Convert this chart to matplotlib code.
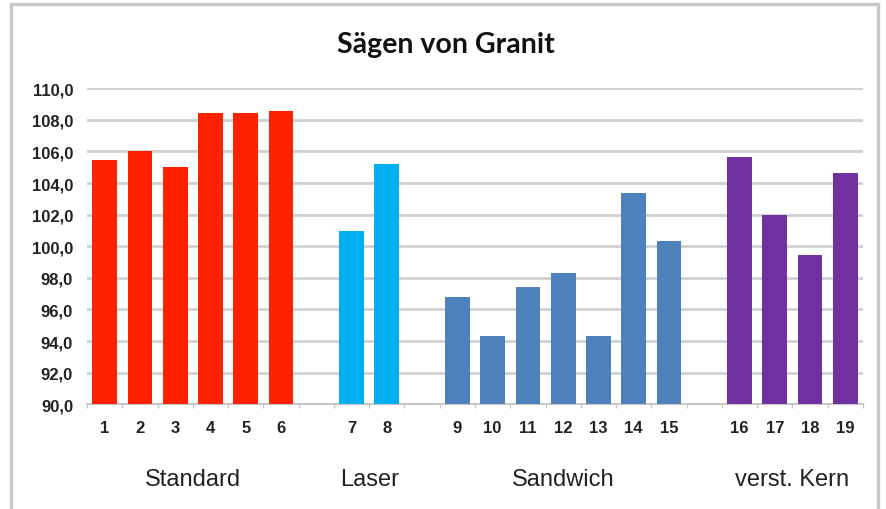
import matplotlib.pyplot as plt
import matplotlib.transforms as mtransforms
from matplotlib.patches import Rectangle

# data
groups = ['Standard', 'Laser', 'Sandwich', 'verst. Kern']
group_colors = ['#FF2200', '#00B0F0', '#4F81BD', '#7030A0']
standard = [105.45, 106.05, 105.05, 108.45, 108.45, 108.55]
laser = [100.95, 105.2]
sandwich = [96.8, 94.35, 97.4, 98.3, 94.3, 103.35, 100.35]
verst_kern = [105.65, 101.95, 99.45, 104.65]
group_values = [standard, laser, sandwich, verst_kern]
y_ticks = [90, 92, 94, 96, 98, 100, 102, 104, 106, 108, 110]

W, H = 886, 510
fig = plt.figure(figsize=(W / 100, H / 100), dpi=100)
fig.patch.set_facecolor('white')
fig.patches.append(Rectangle((11 / W, -0.05), (878 - 11) / W, 1.05 - 5 / H,
                             transform=fig.transFigure, fill=False,
                             edgecolor='#C8C8C8', linewidth=2.5))

ax = fig.add_axes([87 / W, 1 - 405.3 / H, (863 - 87) / W, (405.3 - 89.3) / H])

pos = 0
tick_pos, tick_lab, centers = [], [], []
n = 1
for vals, color in zip(group_values, group_colors):
    xs = list(range(pos, pos + len(vals)))
    ax.bar(xs, [v - 90 for v in vals], bottom=90, width=0.7, color=color, zorder=3)
    for x in xs:
        tick_pos.append(x)
        tick_lab.append(str(n))
        n += 1
    centers.append((xs[0] + xs[-1]) / 2)
    pos += len(vals) + 1
n_slots = pos - 1

ax.set_xlim(-0.5, n_slots - 0.5)
ax.set_ylim(90, 110)
ax.set_yticks(y_ticks)
ax.set_yticklabels([f'{t:.1f}'.replace('.', ',') for t in y_ticks],
                   fontfamily='Liberation Sans', fontweight='bold', fontsize=12,
                   color='#222222')
ax.set_xticks(tick_pos)
ax.set_xticklabels(tick_lab, fontfamily='Liberation Sans', fontweight='bold',
                   fontsize=12, color='#222222')
ax.tick_params(axis='x', length=0, pad=11)
ax.tick_params(axis='y', length=0, pad=10)
ax.set_xticks([x - 0.5 for x in range(n_slots + 1)], minor=True)
ax.tick_params(axis='x', which='minor', length=3, color='#C8C8C8', width=1)

ax.grid(axis='y', color='#D0D0D0', linewidth=2, zorder=0)
for s in ['top', 'right', 'left']:
    ax.spines[s].set_visible(False)
ax.spines['bottom'].set_color('#C8C8C8')
ax.spines['bottom'].set_linewidth(1.5)

trans = mtransforms.blended_transform_factory(ax.transData, ax.transAxes)
for c, g in zip(centers, groups):
    ax.text(c, -0.236, g, transform=trans, ha='center', va='center',
            fontfamily='Liberation Sans', fontsize=17, color='#222222')

fig.text(446 / W, 1 - 45 / H, 'Sägen von Granit', ha='center', va='center',
         fontfamily='Lato', fontweight='bold', fontsize=20.5, color='#111111')

fig.savefig('out.png', dpi=100)
